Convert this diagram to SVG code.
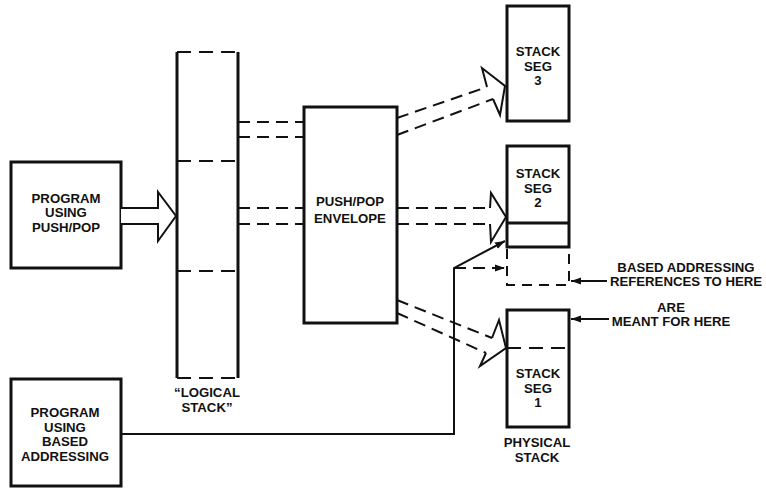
<svg xmlns="http://www.w3.org/2000/svg" width="766" height="488" viewBox="0 0 766 488">
<defs>
<style>
.box{fill:#fff;stroke:#111;stroke-width:3}
.thick{stroke:#111;stroke-width:3;fill:none}
.thin{stroke:#111;stroke-width:2;fill:none}
.dash{stroke:#111;stroke-width:2;fill:none;stroke-dasharray:12 7}
.dashb{stroke:#111;stroke-width:2;fill:none;stroke-dasharray:14 8}
.head{fill:none;stroke:#111;stroke-width:2;stroke-linejoin:miter}
text{font-family:"Liberation Sans",Arial,Helvetica,sans-serif;font-weight:bold;font-size:13.2px;fill:#111;text-anchor:middle}
</style>
<marker id="ah" viewBox="0 0 10 10" refX="10" refY="5" markerWidth="10" markerHeight="10" markerUnits="userSpaceOnUse" orient="auto">
<path d="M0,1.5 L10,5 L0,8.5 Z" fill="#111"/>
</marker>
</defs>
<rect width="766" height="488" fill="#fff"/>

<g id="prog-pushpop">
<rect class="box" x="11" y="162" width="110" height="106"/>
<text x="66" y="203">PROGRAM</text>
<text x="66" y="217">USING</text>
<text x="66" y="232">PUSH/POP</text>
</g>

<g id="prog-based">
<rect class="box" x="11" y="379" width="110" height="107"/>
<text x="65" y="417">PROGRAM</text>
<text x="65" y="432">USING</text>
<text x="65" y="446">BASED</text>
<text x="65" y="461">ADDRESSING</text>
</g>

<g id="logical-stack">
<line class="thick" x1="177" y1="52" x2="177" y2="378"/>
<line class="thick" x1="238" y1="52" x2="238" y2="378"/>
<line class="dashb" x1="177" y1="52" x2="238" y2="52"/>
<line class="dashb" x1="177" y1="161" x2="238" y2="161"/>
<line class="dashb" x1="177" y1="271" x2="238" y2="271"/>
<line class="dashb" x1="177" y1="378" x2="238" y2="378"/>
<text x="207" y="397">“LOGICAL</text>
<text x="207" y="412">STACK”</text>
</g>

<g id="envelope">
<rect class="box" x="304" y="107" width="93" height="216"/>
<text x="350" y="206">PUSH/POP</text>
<text x="350" y="223">ENVELOPE</text>
</g>

<g id="seg3">
<rect class="box" x="507" y="6" width="62" height="115"/>
<text x="538" y="56">STACK</text>
<text x="538" y="71">SEG</text>
<text x="538" y="85">3</text>
</g>

<g id="seg2">
<rect class="box" x="507" y="146" width="62" height="101"/>
<line class="thick" x1="507" y1="223" x2="569" y2="223"/>
<path class="dash" d="M507,249 V285 H569 V249" style="stroke-dasharray:10 7"/>
<text x="538" y="178">STACK</text>
<text x="538" y="193">SEG</text>
<text x="538" y="207">2</text>
</g>

<g id="seg1">
<rect class="box" x="507" y="310" width="62" height="117"/>
<line class="dashb" x1="507" y1="348" x2="569" y2="348"/>
<text x="538" y="378">STACK</text>
<text x="538" y="393">SEG</text>
<text x="538" y="407">1</text>
<text x="537" y="447">PHYSICAL</text>
<text x="537" y="462">STACK</text>
</g>

<g id="notes">
<text x="686" y="272">BASED ADDRESSING</text>
<text x="686" y="286">REFERENCES TO HERE</text>
<text x="671" y="312">ARE</text>
<text x="671" y="326">MEANT FOR HERE</text>
</g>

<g id="connectors">
<path class="head" d="M121,208 H158 V192 L176,216 L158,241 V224 H121" style="fill:#fff"/>
<line class="dash" x1="238" y1="122" x2="304" y2="122"/>
<line class="dash" x1="238" y1="137" x2="304" y2="137"/>
<line class="dash" x1="238" y1="208" x2="304" y2="208"/>
<line class="dash" x1="238" y1="224" x2="304" y2="224"/>
<line class="dash" x1="397" y1="118" x2="487" y2="87"/>
<line class="dash" x1="397" y1="135" x2="493" y2="99"/>
<path class="head" d="M487,87 L482,68 L505,86 L500,115 L493,99"/>
<line class="dash" x1="397" y1="208" x2="490" y2="208"/>
<line class="dash" x1="397" y1="224" x2="490" y2="224"/>
<path class="head" d="M490,208 L491,193 L506,217 L491,242 L490,224"/>
<line class="dash" x1="397" y1="300" x2="492" y2="338"/>
<line class="dash" x1="397" y1="313" x2="486" y2="353"/>
<path class="head" d="M492,338 L499,320 L506,348 L480,366 L486,353"/>
<path class="thin" d="M121,434 H454 V268 L505,241" marker-end="url(#ah)"/>
<line class="dash" x1="454" y1="268" x2="505" y2="268" marker-end="url(#ah)"/>
<line class="thin" x1="607" y1="281" x2="571" y2="281" marker-end="url(#ah)"/>
<line class="thin" x1="609" y1="319" x2="571" y2="319" marker-end="url(#ah)"/>
</g>
</svg>
